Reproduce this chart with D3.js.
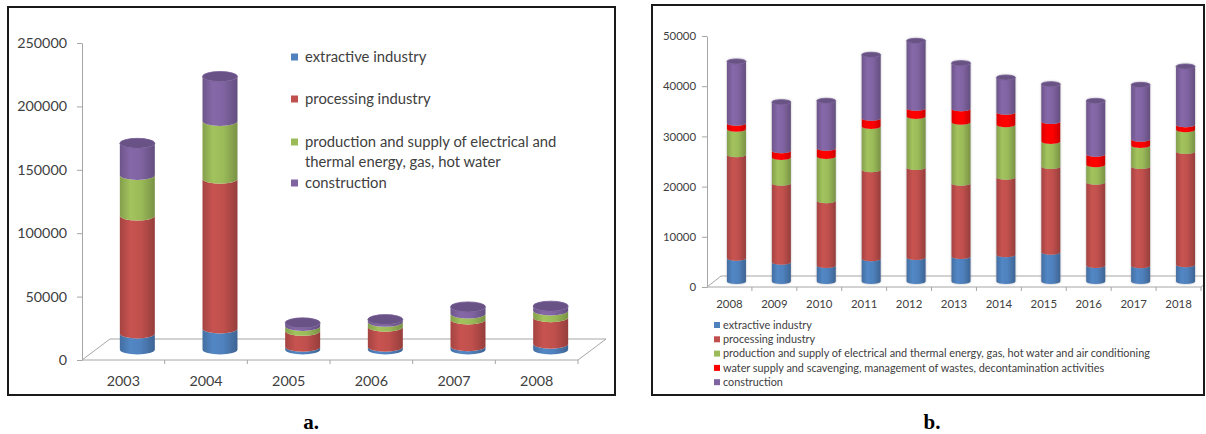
<!DOCTYPE html>
<html>
<head>
<meta charset="utf-8">
<script src="https://cdn.jsdelivr.net/npm/d3@7/dist/d3.min.js"></script>
<style>
  html, body { margin: 0; padding: 0; background: #fff; }
  svg { display: block; }
  text { font-family: Lato, "Open Sans", sans-serif; fill: #404040; }
</style>
</head>
<body>
<svg id="chart" width="1206" height="434"></svg>
<script>
// ---- Panel a: 2003–2008 ----
const yearsA = ["2003", "2004", "2005", "2006", "2007", "2008"];
const extractiveA   = [12600, 16600, 2100, 2100, 2600, 4500];
const processingA   = [93000, 118000, 12600, 15800, 21000, 21000];
const energyA       = [32000, 45700, 3900, 3900, 4700, 5300];
const constructionA = [25000, 35000, 2400, 1800, 5300, 3400];
const ticksA = [0, 50000, 100000, 150000, 200000, 250000];
const seriesNamesA = [
  "extractive industry",
  "processing industry",
  ["production and supply of electrical and", "thermal energy, gas, hot water"],
  "construction"
];

// ---- Panel b: 2008–2018 ----
const yearsB = ["2008", "2009", "2010", "2011", "2012", "2013", "2014", "2015", "2016", "2017", "2018"];
const extractiveB   = [4650, 3850, 3190, 4520, 4780, 4980, 5310, 5840, 3190, 3120, 3320];
const processingB   = [20580, 15740, 12880, 17730, 17930, 14610, 15470, 17070, 16600, 19790, 22580];
const energyB       = [5110, 5110, 8830, 8630, 10160, 12150, 10430, 4980, 3450, 4180, 4310];
const waterB        = [1200, 1330, 1660, 1660, 1660, 2660, 2520, 3980, 2120, 1260, 1000];
const constructionB = [12290, 9700, 9430, 12620, 13410, 9100, 6900, 7440, 10620, 10820, 11620];
const ticksB = [0, 10000, 20000, 30000, 40000, 50000];
const seriesNamesB = [
  "extractive industry",
  "processing industry",
  "production and supply of electrical and thermal energy, gas, hot water and air conditioning",
  "water supply and scavenging, management of wastes, decontamination activities",
  "construction"
];

const BLUE = "#4F81BD", RED = "#C0504D", GREEN = "#9BBB59", BRIGHT = "#FF0000", PURPLE = "#8064A2";
const colorsA = [BLUE, RED, GREEN, PURPLE];
const colorsB = [BLUE, RED, GREEN, BRIGHT, PURPLE];

const svg = d3.select("#chart");
const defs = svg.append("defs");

// horizontal shading that gives the cylinders their rounded look
function cylGradient(id, base) {
  const c = d3.color(base);
  const g = defs.append("linearGradient").attr("id", id)
    .attr("x1", "0%").attr("x2", "100%").attr("y1", "0%").attr("y2", "0%");
  g.append("stop").attr("offset", "0%").attr("stop-color", c.darker(0.45));
  g.append("stop").attr("offset", "30%").attr("stop-color", c.brighter(0.12));
  g.append("stop").attr("offset", "60%").attr("stop-color", c);
  g.append("stop").attr("offset", "100%").attr("stop-color", c.darker(0.7));
  return `url(#${id})`;
}
const fillMap = {};
[BLUE, RED, GREEN, BRIGHT, PURPLE].forEach((c, i) => { fillMap[c] = cylGradient("cyl" + i, c); });

const glow = defs.append("filter").attr("id", "halo")
  .attr("x", "-30%").attr("y", "-10%").attr("width", "160%").attr("height", "120%");
glow.append("feDropShadow").attr("dx", 0).attr("dy", 0).attr("stdDeviation", 1.1)
  .attr("flood-color", "#7f7f7f").attr("flood-opacity", 0.55);

defs.append("clipPath").attr("id", "clipB")
  .append("rect").attr("x", 653).attr("y", 6).attr("width", 550).attr("height", 388);

// frames
svg.append("rect").attr("x", 8).attr("y", 7).attr("width", 607).attr("height", 388)
  .attr("fill", "none").attr("stroke", "#1a1a1a").attr("stroke-width", 2);
svg.append("rect").attr("x", 652).attr("y", 5).attr("width", 552).attr("height", 390)
  .attr("fill", "none").attr("stroke", "#1a1a1a").attr("stroke-width", 2);

function drawPanel(g, cfg) {
  const x = d3.scaleBand().domain(cfg.years).range([cfg.x0, cfg.x1]).padding(0);
  const y = d3.scaleLinear().domain([0, cfg.max]).range([cfg.y0, cfg.yTop]);
  const step = x.step();

  // floor of the 3‑D plot
  const fl = [
    [cfg.x0, cfg.y0], [cfg.x0 + cfg.dx, cfg.y0 - cfg.dy],
    [cfg.x1 + cfg.dx, cfg.y0 - cfg.dy], [cfg.x1, cfg.y0]
  ];
  g.append("path").attr("d", d3.line()(fl)).attr("fill", "none")
    .attr("stroke", "#a6a6a6").attr("stroke-width", 1);
  g.append("line").attr("x1", cfg.x0).attr("x2", cfg.x1).attr("y1", cfg.y0).attr("y2", cfg.y0)
    .attr("stroke", "#a6a6a6");

  // category boundary ticks
  const bounds = cfg.years.map(d => x(d) + step);
  g.selectAll(".ctick").data(bounds).join("line")
    .attr("x1", d => d).attr("x2", d => d)
    .attr("y1", cfg.y0).attr("y2", cfg.y0 + 4)
    .attr("stroke", "#a6a6a6");

  // category labels
  const xAxis = g.append("g").attr("transform", `translate(0,${cfg.y0})`)
    .call(d3.axisBottom(x).tickSize(0).tickPadding(cfg.xPad));
  xAxis.select(".domain").remove();
  xAxis.selectAll("text").attr("font-size", cfg.fs).attr("fill", "#404040")
    .style("font-family", "Lato, sans-serif");

  // value axis
  const yAxis = g.append("g").attr("transform", `translate(${cfg.x0},0)`)
    .call(d3.axisLeft(y).tickValues(cfg.ticks).tickFormat(d3.format("d"))
      .tickSize(5).tickSizeOuter(0).tickPadding(cfg.yPad));
  yAxis.select(".domain").attr("stroke", "#a6a6a6");
  yAxis.selectAll(".tick line").attr("stroke", "#a6a6a6");
  yAxis.selectAll("text").attr("font-size", cfg.fs).attr("fill", "#404040")
    .style("font-family", "Lato, sans-serif");

  // stacked cylinders
  const stackData = cfg.years.map((yr, i) => {
    const o = { year: yr };
    cfg.series.forEach((s, k) => { o["s" + k] = s[i]; });
    return o;
  });
  const keys = cfg.series.map((_, k) => "s" + k);
  const stacked = d3.stack().keys(keys)(stackData);
  const rx = cfg.barW / 2, ry = cfg.ry;
  const lift = cfg.dy / 2;

  const barsG = g.append("g").attr("filter", cfg.halo ? "url(#halo)" : null);
  cfg.years.forEach((yr, i) => {
    const cx = x(yr) + step / 2 + cfg.dx / 2;
    const xl = cx - rx, xr = cx + rx;
    const bar = barsG.append("g");
    stacked.forEach((layer, k) => {
      const yb = y(layer[i][0]) - lift;
      const yt = y(layer[i][1]) - lift;
      const d = `M${xl},${yt} A${rx},${ry} 0 0 0 ${xr},${yt} L${xr},${yb} A${rx},${ry} 0 0 1 ${xl},${yb} Z`;
      bar.append("path").attr("d", d).attr("fill", fillMap[cfg.colors[k]]);
    });
    const top = y(stacked[stacked.length - 1][i][1]) - lift;
    const topC = d3.color(cfg.colors[cfg.colors.length - 1]);
    bar.append("ellipse").attr("cx", cx).attr("cy", top).attr("rx", rx).attr("ry", ry)
      .attr("fill", topC.darker(0.55)).attr("stroke", topC.darker(0.2)).attr("stroke-width", 0.8);
  });
}

// panel a
const gA = svg.append("g");
drawPanel(gA, {
  years: yearsA, x0: 82, x1: 578, y0: 360, yTop: 43, max: 250000, ticks: ticksA,
  dx: 28, dy: 21, barW: 35, ry: 5, fs: 14.3, xPad: 16, yPad: 10,
  series: [extractiveA, processingA, energyA, constructionA], colors: colorsA, halo: false
});

// panel b
const gB = svg.append("g").attr("clip-path", "url(#clipB)");
drawPanel(gB, {
  years: yearsB, x0: 707, x1: 1201, y0: 287, yTop: 36, max: 50000, ticks: ticksB,
  dx: 14, dy: 11, barW: 19, ry: 2.5, fs: 11.4, xPad: 13, yPad: 6,
  series: [extractiveB, processingB, energyB, waterB, constructionB], colors: colorsB, halo: true
});

// legend a
const legA = svg.append("g");
const legRowsA = [57, 99, 142, 183];
seriesNamesA.forEach((name, k) => {
  const cy = legRowsA[k];
  legA.append("rect").attr("x", 291).attr("y", cy - 3.5).attr("width", 7).attr("height", 7)
    .attr("fill", colorsA[k]);
  const lines = Array.isArray(name) ? name : [name];
  lines.forEach((ln, j) => {
    legA.append("text").attr("x", 305).attr("y", cy + j * 19.5)
      .attr("dy", "0.35em").attr("font-size", 14.8).text(ln);
  });
});

// legend b
const legB = svg.append("g");
seriesNamesB.forEach((name, k) => {
  const cy = 325 + k * 14.3;
  legB.append("rect").attr("x", 714).attr("y", cy - 3).attr("width", 6).attr("height", 6)
    .attr("fill", colorsB[k]);
  legB.append("text").attr("x", 723).attr("y", cy).attr("dy", "0.35em")
    .attr("font-size", 10.85).text(name);
});

// panel captions
svg.append("text").attr("x", 311).attr("y", 429).attr("text-anchor", "middle")
  .style("font-family", "'Liberation Serif', 'DejaVu Serif', serif").style("fill", "#000")
  .attr("font-size", 21).attr("font-weight", "bold").text("a.");
svg.append("text").attr("x", 932).attr("y", 429).attr("text-anchor", "middle")
  .style("font-family", "'Liberation Serif', 'DejaVu Serif', serif").style("fill", "#000")
  .attr("font-size", 21).attr("font-weight", "bold").text("b.");
</script>
</body>
</html>
